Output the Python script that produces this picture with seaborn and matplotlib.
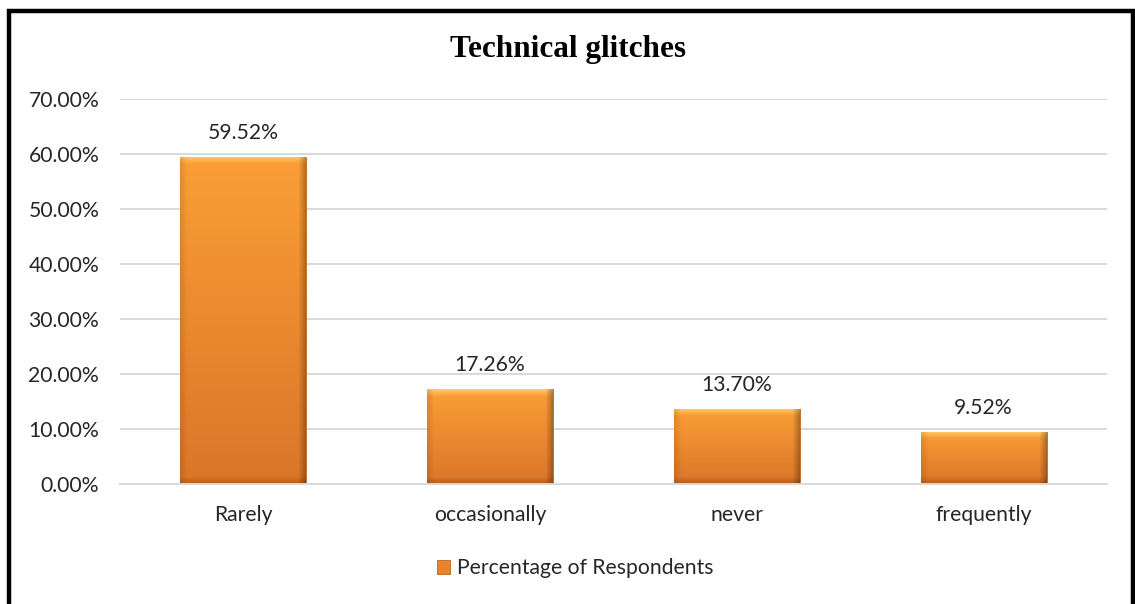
import numpy as np
import pandas as pd
import matplotlib
matplotlib.use("Agg")
import matplotlib.pyplot as plt
import seaborn as sns
from matplotlib.patches import Rectangle
from matplotlib.colors import to_rgb

categories = ["Rarely", "occasionally", "never", "frequently"]
values = [59.52, 17.26, 13.70, 9.52]
y_ticks = [0, 10, 20, 30, 40, 50, 60, 70]
title = "Technical glitches"
series_name = "Percentage of Respondents"

sns.set_theme(style="white")
plt.rcParams["font.family"] = ["Lato", "DejaVu Sans"]

W, H = 1135, 604
TXT = 15.2
fig = plt.figure(figsize=(W / 100, H / 100), dpi=100)
ax = fig.add_axes([120 / W, 1 - 484 / H, (1107 - 120) / W, (484 - 99) / H])

df = pd.DataFrame({"category": categories, "value": values})
sns.barplot(data=df, x="category", y="value", color="#F7932F", width=0.51,
            ax=ax, saturation=1, label=series_name)
handles, labels = ax.get_legend_handles_labels()
if ax.get_legend() is not None:
    ax.get_legend().remove()

ax.set_ylim(0, 70)
ax.set_xlim(-0.5, len(categories) - 0.5)
ax.set_yticks(y_ticks)
ax.set_yticklabels([f"{t:.2f}%" for t in y_ticks])
ax.yaxis.grid(True, color="#D9D9D9", linewidth=1.4)
ax.set_axisbelow(True)
for s in ["top", "right", "left"]:
    ax.spines[s].set_visible(False)
ax.spines["bottom"].set_color("#D9D9D9")
ax.spines["bottom"].set_linewidth(1.4)
ax.set_xlabel("")
ax.set_ylabel("")
ax.tick_params(axis="both", length=0, labelsize=TXT, colors="#262626")
ax.tick_params(axis="y", pad=15)
ax.tick_params(axis="x", pad=15)

# Gradient fill with a bevelled edge for each bar
top_c = np.array(to_rgb("#FB9E36"))
bot_c = np.array(to_rgb("#DA7528"))
fig.canvas.draw()
for bar, v in zip(ax.patches, values):
    x0, y0 = bar.get_x(), bar.get_y()
    w, h = bar.get_width(), bar.get_height()
    p0 = ax.transData.transform((x0, y0))
    p1 = ax.transData.transform((x0 + w, y0 + h))
    pw, ph = int(round(p1[0] - p0[0])), int(round(p1[1] - p0[1]))
    yy, xx = np.mgrid[0:ph, 0:pw]
    t = yy / max(ph - 1, 1)
    img = top_c[None, None, :] * (1 - t[..., None]) + bot_c[None, None, :] * t[..., None]
    bev = 7
    # top highlight, darker right and bottom edges, slight left shade
    top_m = np.clip(1 - yy / bev, 0, 1)
    bot_m = np.clip(1 - (ph - 1 - yy) / bev, 0, 1)
    right_m = np.clip(1 - (pw - 1 - xx) / bev, 0, 1)
    left_m = np.clip(1 - xx / bev, 0, 1)
    img = img + (np.array([1.0, 0.93, 0.55]) - img) * (0.55 * top_m)[..., None]
    img = img * (1 - 0.28 * right_m)[..., None]
    img = img * (1 - 0.18 * bot_m)[..., None]
    img = img * (1 - 0.10 * left_m)[..., None]
    img = np.clip(img, 0, 1)
    im = ax.imshow(img, extent=(x0, x0 + w, y0, y0 + h), origin="upper",
                   aspect="auto", zorder=bar.get_zorder() + 0.1, interpolation="bilinear")
    im.set_clip_path(bar)
    bar.set_edgecolor("#B8651F")
    bar.set_linewidth(0.6)
    ax.annotate(f"{v:.2f}%", (x0 + w / 2, v), xytext=(0, 24 / 1.389),
                textcoords="offset points", ha="center", va="center",
                fontsize=TXT, color="#262626")

ax.set_xlim(-0.5, len(categories) - 0.5)
ax.set_ylim(0, 70)

leg = fig.legend(handles, labels, loc="center", bbox_to_anchor=(575 / W, 1 - 568 / H),
                 frameon=False, fontsize=TXT, handlelength=0.65, handleheight=0.65,
                 handletextpad=0.3)
for t in leg.get_texts():
    t.set_color("#262626")
for hnd in leg.legend_handles:
    hnd.set_facecolor("#E9832C")
    hnd.set_edgecolor("#B8651F")

fig.text(0.5, 1 - 50 / H, title, ha="center", va="center", fontsize=22.5,
         fontweight="bold", family=["Liberation Serif", "DejaVu Serif"], color="black")

# Outer frame of the chart
fig.patches.append(Rectangle((9 / W, -0.05), (1133 - 9) / W, 1.05 - 10.5 / H,
                             transform=fig.transFigure, fill=False,
                             edgecolor="black", linewidth=3.2, zorder=10))

fig.savefig("out.png", dpi=100)
